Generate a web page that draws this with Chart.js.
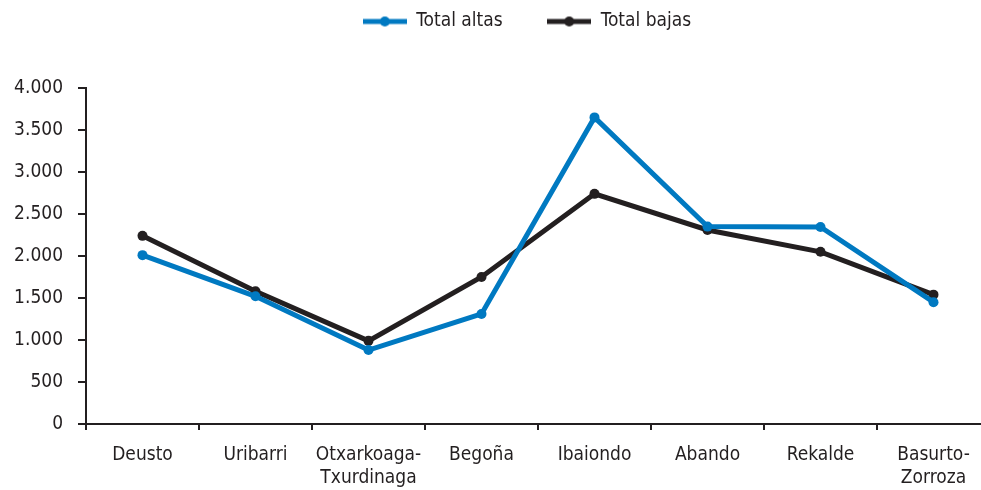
<!DOCTYPE html>
<html>
<head>
<meta charset="utf-8">
<script src="https://cdn.jsdelivr.net/npm/chart.js@4.4.1/dist/chart.umd.min.js"></script>
<style>
  html, body { margin: 0; padding: 0; background: #fff; overflow: hidden; }
  #wrap { width: 981px; height: 490px; overflow: hidden; }
  #box { width: 1054px; height: 490px; position: relative; }
</style>
</head>
<body>
<div id="wrap"><div id="box"><canvas id="chart"></canvas></div></div>
<script>
// Datos
const distritos = ['Deusto', 'Uribarri', ['Otxarkoaga-', 'Txurdinaga'], 'Begoña', 'Ibaiondo', 'Abando', 'Rekalde', ['Basurto-', 'Zorroza']];
const totalAltas = [2010, 1520, 880, 1310, 3650, 2350, 2345, 1450];
const totalBajas = [2240, 1580, 990, 1750, 2740, 2310, 2050, 1540];
const seriesNombres = ['Total altas', 'Total bajas'];

const AZUL = '#0079c1';
const NEGRO = '#231f20';
const FUENTE = "'DejaVu Sans Condensed', 'DejaVu Sans', sans-serif";
const TAM = 19;

// icono de leyenda: linea con punto en medio
function iconoLinea(color) {
    const c = document.createElement('canvas');
    c.width = 44; c.height = 12;
    const g = c.getContext('2d');
    g.strokeStyle = color; g.lineWidth = 5;
    g.beginPath(); g.moveTo(0, 6); g.lineTo(44, 6); g.stroke();
    g.fillStyle = color;
    g.beginPath(); g.arc(22, 6, 5, 0, Math.PI * 2); g.fill();
    return c;
}

const formatoMiles = v => String(v).replace(/\B(?=(\d{3})+(?!\d))/g, '.');

new Chart(document.getElementById('chart'), {
    type: 'line',
    data: {
        labels: distritos,
        datasets: [
            {
                label: seriesNombres[0],
                data: totalAltas,
                borderColor: AZUL, backgroundColor: AZUL,
                borderWidth: 5, pointRadius: 5, pointBorderWidth: 0, tension: 0
            },
            {
                label: seriesNombres[1],
                data: totalBajas,
                borderColor: NEGRO, backgroundColor: NEGRO,
                borderWidth: 5, pointRadius: 5, pointBorderWidth: 0, tension: 0
            }
        ]
    },
    options: {
        responsive: true,
        maintainAspectRatio: false,
        animation: false,
        layout: { padding: 0 },
        plugins: {
            tooltip: { enabled: false },
            // titulo vacio solo para separar la leyenda del grafico
            title: { display: true, text: ' ', weight: 500, padding: { top: 0, bottom: 46 }, font: { size: 1, lineHeight: 1 } },
            legend: {
                position: 'top',
                labels: {
                    usePointStyle: true,
                    pointStyleWidth: 44,
                    padding: 12,
                    color: NEGRO,
                    font: { family: FUENTE, size: TAM },
                    generateLabels: chart => chart.data.datasets.map((ds, i) => ({
                        text: i === 0 ? ds.label + '      ' : ds.label,
                        pointStyle: iconoLinea(ds.borderColor),
                        fillStyle: ds.borderColor,
                        strokeStyle: ds.borderColor,
                        lineWidth: 0,
                        fontColor: NEGRO,
                        datasetIndex: i
                    }))
                }
            }
        },
        scales: {
            x: {
                offset: true,
                afterFit: s => { s.height = 66; },
                grid: { display: true, drawOnChartArea: false, drawTicks: true, tickLength: 6, color: NEGRO, lineWidth: 2, offset: true },
                border: { display: true, color: NEGRO, width: 2 },
                ticks: { color: NEGRO, font: { family: FUENTE, size: TAM, lineHeight: 1.2 }, padding: 14, maxRotation: 0, autoSkip: false }
            },
            y: {
                min: 0, max: 4000,
                afterFit: s => { s.width = 86; },
                grid: { display: true, drawOnChartArea: false, drawTicks: true, tickLength: 8, color: NEGRO, lineWidth: 2 },
                border: { display: true, color: NEGRO, width: 2 },
                ticks: { stepSize: 500, color: NEGRO, font: { family: FUENTE, size: TAM }, padding: 15, callback: v => formatoMiles(v) }
            },
            // eje vacio a la derecha: el area del grafico sigue fuera del recorte
            y2: {
                position: 'right',
                display: true,
                afterFit: s => { s.width = 64; },
                grid: { display: false },
                border: { display: false },
                ticks: { display: false }
            }
        }
    }
});
</script>
</body>
</html>
